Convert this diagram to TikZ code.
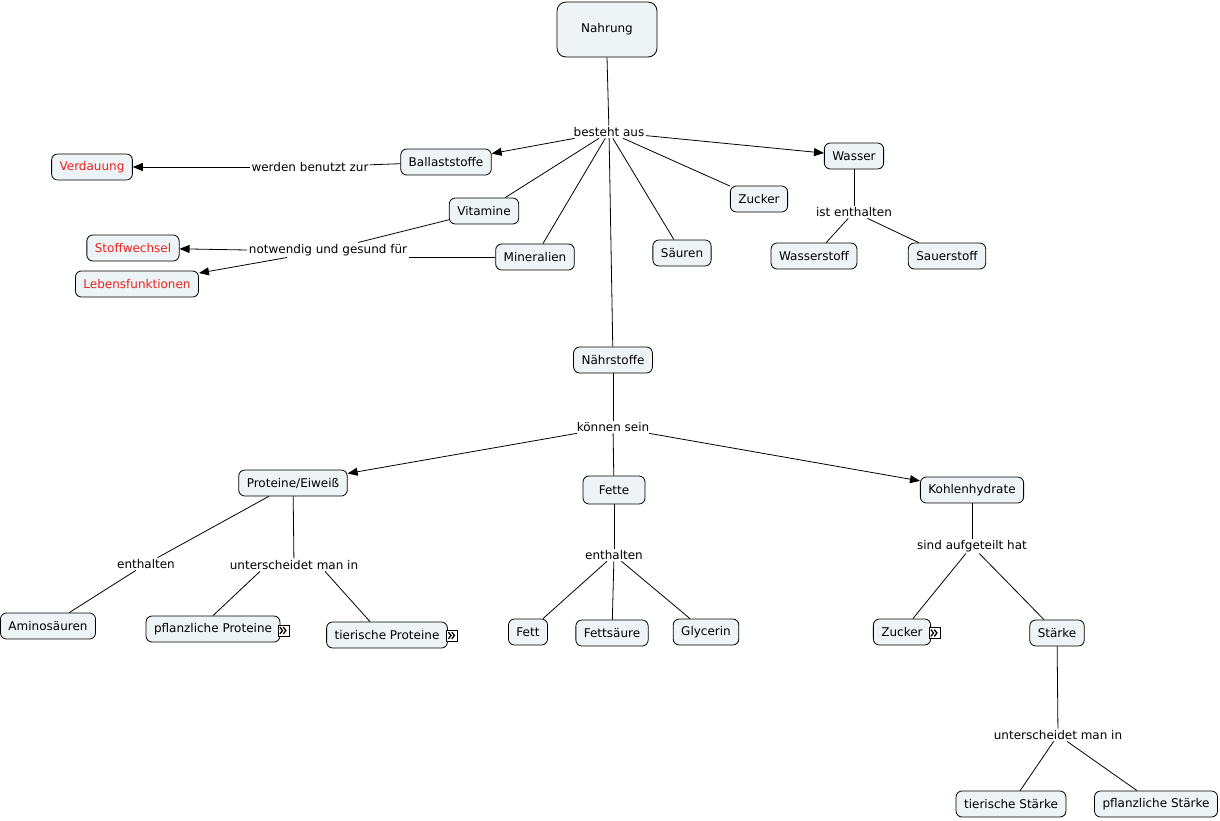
\documentclass[tikz,border=0pt]{standalone}
\usepackage{fontspec}
\setmainfont{DejaVu Sans}
\usetikzlibrary{arrows.meta}
\definecolor{boxfill}{HTML}{EEF3F5}
\definecolor{redtxt}{HTML}{E8231E}
\newcommand{\expicon}[2]{%
  \node[iconbox] (#1) at (#2) {};
  \draw[line width=1.3pt] ([shift={(-3.6,-3.4)}]#1.center) -- ++(2.6,3.4) -- ++(-2.6,3.4);
  \draw[line width=1.3pt] ([shift={(-0.2,-3.4)}]#1.center) -- ++(2.6,3.4) -- ++(-2.6,3.4);
}
\begin{document}
\begin{tikzpicture}[x=1pt,y=-1pt,
 concept/.style={draw=black, fill=boxfill, rounded corners=6pt, minimum height=26pt, inner xsep=8pt, font=\fontsize{12}{14}\selectfont, line width=0.8pt},
 redconcept/.style={concept, text=redtxt},
 lbl/.style={fill=white, inner sep=1.5pt, font=\fontsize{12}{14}\selectfont},
 link/.style={draw, line width=0.8pt},
 arr/.style={link, -{Triangle[length=10pt,width=8pt]}},
 iconbox/.style={draw, fill=white, minimum width=11pt, minimum height=11pt, inner sep=0pt, line width=0.7pt}]
\useasboundingbox[fill=white] (0,0) rectangle (1220,820);

% concepts
\node[concept, minimum width=100pt, minimum height=55pt, rounded corners=9pt] (nah) at (607,29.5) {Nahrung};
\node[concept] (bal) at (446,162) {Ballaststoffe};
\node[redconcept] (ver) at (92,167) {Verdauung};
\node[concept] (was) at (854,156) {Wasser};
\node[concept] (vit) at (484,211) {Vitamine};
\node[concept] (zu1) at (759,199) {Zucker};
\node[concept] (wst) at (814,256) {Wasserstoff};
\node[concept] (sst) at (947,256) {Sauerstoff};
\node[concept] (sae) at (682,253) {Säuren};
\node[concept] (min) at (535,257) {Mineralien};
\node[redconcept] (stw) at (133,248) {Stoffwechsel};
\node[redconcept] (leb) at (137,284) {Lebensfunktionen};
\node[concept] (nae) at (613,360) {Nährstoffe};
\node[concept] (pro) at (293,483) {Proteine/Eiweiß};
\node[concept, minimum width=62pt, minimum height=28pt] (fet) at (614,490) {Fette};
\node[concept] (kh) at (972,490) {Kohlenhydrate};
\node[concept] (ami) at (48,626) {Aminosäuren};
\node[concept] (pfp) at (213,629) {pflanzliche Proteine};
\node[concept] (tip) at (387,635) {tierische Proteine};
\node[concept] (fett) at (528,632) {Fett};
\node[concept] (fsa) at (612,633) {Fettsäure};
\node[concept] (gly) at (706,632) {Glycerin};
\node[concept] (zu2) at (902,632) {Zucker};
\node[concept] (sta) at (1057,633) {Stärke};
\node[concept] (tst) at (1011,804) {tierische Stärke};
\node[concept] (pst) at (1156,804) {pflanzliche Stärke};

% expand icons
\expicon{ic1}{283.5,630.5}
\expicon{ic2}{452,635.5}
\expicon{ic3}{934.5,633}

% linking phrases
\node[lbl] (bes) at (609,132) {besteht aus};
\node[lbl] (wbz) at (310,167) {werden benutzt zur};
\node[lbl] (nug) at (328,250) {notwendig und gesund für};
\node[lbl] (ien) at (854,212) {ist enthalten};
\node[lbl] (kon) at (613,427) {können sein};
\node[lbl] (en1) at (146,564) {enthalten};
\node[lbl] (un1) at (294,565) {unterscheidet man in};
\node[lbl] (en2) at (614,555) {enthalten};
\node[lbl] (sah) at (972,546) {sind aufgeteilt hat};
\node[lbl] (un2) at (1058,735) {unterscheidet man in};

% connectors
\draw[link] (nah.south) -- (bes);
\draw[arr] (bes) -- (bal);
\draw[arr] (bes) -- (was);
\draw[link] (bes) -- (vit);
\draw[link] (bes) -- (min);
\draw[link] (bes) -- (sae);
\draw[link] (bes) -- (zu1);
\draw[link] (bes) -- (nae);
\draw[link] (bal) -- (wbz);
\draw[arr] (wbz) -- (ver);
\draw[link] (vit) -- (nug);
\draw[link] (min.west) -- (min.west -| nug.east);
\draw[arr] (nug.west) -- (stw);
\draw[arr] ([xshift=-41]nug.south) -- (leb);
\draw[link] (was) -- (ien);
\draw[link] (ien) -- (wst);
\draw[link] (ien) -- (sst);
\draw[link] (nae) -- (kon);
\draw[arr] (kon) -- (pro);
\draw[arr] (kon) -- (kh);
\draw[link] (kon) -- (fet);
\draw[link] (pro) -- (en1);
\draw[link] (en1) -- (ami);
\draw[link] (pro) -- (un1);
\draw[link] ([xshift=-34]un1.south) -- (pfp.north);
\draw[link] ([xshift=31]un1.south) -- ([xshift=-17]tip.north);
\draw[link] (fet) -- (en2);
\draw[link] (en2) -- (fett);
\draw[link] (en2) -- (fsa);
\draw[link] (en2) -- (gly);
\draw[link] (kh) -- (sah);
\draw[link] (sah) -- (zu2);
\draw[link] (sah) -- (sta);
\draw[link] (sta) -- (un2);
\draw[link] (un2) -- (tst);
\draw[link] (un2) -- (pst);
\end{tikzpicture}
\end{document}
